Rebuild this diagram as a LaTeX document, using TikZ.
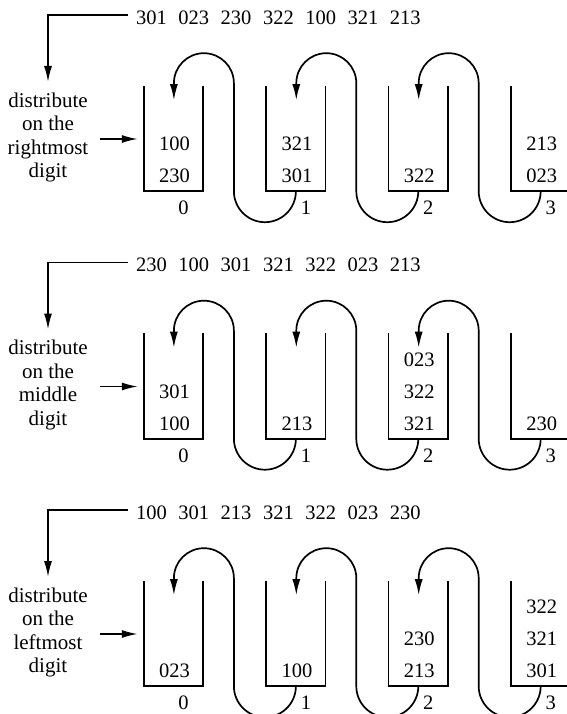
\documentclass[tikz,border=0pt]{standalone}
\usepackage{fontspec}
\setmainfont{Liberation Serif}
\usetikzlibrary{arrows.meta}
\tikzset{
  wire/.style={line width=1.7pt},
  tip/.style={-{Latex[length=16pt,width=8pt]}},
  num/.style={font=\fontsize{20.5}{24}\selectfont, inner sep=0pt, anchor=center},
  side/.style={font=\fontsize{21}{23.5}\selectfont, align=center, inner sep=0pt},
  binbox/.style={draw=none, minimum width=59pt, minimum height=105pt, inner sep=0pt},
}
\newcommand\BinItems[3]{%
  \foreach \v [count=\j from 0] in {#3}{%
    \node[num] (#1-c#2-\j) at ({174.5+122.4*#2},{-176+32*\j}) {\v};}}
% #1 prefix, #2 y offset, #3 word, #4 sequence, #5-#8 bin contents (bottom to top)
\newcommand\RadixPanel[8]{%
  \begin{scope}[yshift=-#2pt]
    \foreach \t [count=\i from 0] in {#4}{%
      \node[num] (#1-s\i) at ({151.5+42.3*\i},-17.5) {\t};}
    \coordinate (#1-le) at (128,-15);
    \coordinate (#1-corner) at (48,-15);
    \coordinate (#1-down) at (48,-82);
    \draw[wire,tip] (#1-le) -- (#1-corner) -- (#1-down);
    \node[side] (#1-txt) at (48,-137.5) {distribute\\on the\\#3\\digit};
    \foreach \k in {0,1,2,3}{%
      \node[binbox] (#1-b\k) at ({173.5+122.4*\k},-138.5) {};
      \ifnum\k<3
        \draw[wire] (#1-b\k.north west) -- (#1-b\k.south west) -- (#1-b\k.south east) -- (#1-b\k.north east);
      \else
        \draw[wire] (#1-b\k.north west) -- (#1-b\k.south west) -- (#1-b\k.south east);
      \fi
      \node[num] (#1-l\k) at ({183.5+122.4*\k},-208) {\k};
    }
    \coordinate (#1-hs) at (100,-139);
    \draw[wire,tip,shorten >=6pt] (#1-hs) -- (#1-b0.west |- #1-hs);
    \foreach \k [evaluate=\k as \n using int(\k+1)] in {0,1,2}{%
      \draw[wire,tip] (#1-b\n.south) arc[start angle=0, end angle=-180, radius=31pt]
        -- ++(0,108pt) arc[start angle=0, end angle=180, radius=30pt] -- ++(0,-17pt);
    }
    \BinItems{#1}{0}{#5}
    \BinItems{#1}{1}{#6}
    \BinItems{#1}{2}{#7}
    \BinItems{#1}{3}{#8}
  \end{scope}}
\begin{document}
\begin{tikzpicture}[x=1pt,y=1pt]
  \useasboundingbox (0,0) rectangle (566,-714);
  \RadixPanel{p1}{0}{rightmost}{301,023,230,322,100,321,213}{230,100}{301,321}{322}{023,213}
  \RadixPanel{p2}{247.5}{middle}{230,100,301,321,322,023,213}{100,301}{213}{321,322,023}{230}
  \RadixPanel{p3}{495}{leftmost}{100,301,213,321,322,023,230}{023}{100}{213,230}{301,321,322}
\end{tikzpicture}
\end{document}
